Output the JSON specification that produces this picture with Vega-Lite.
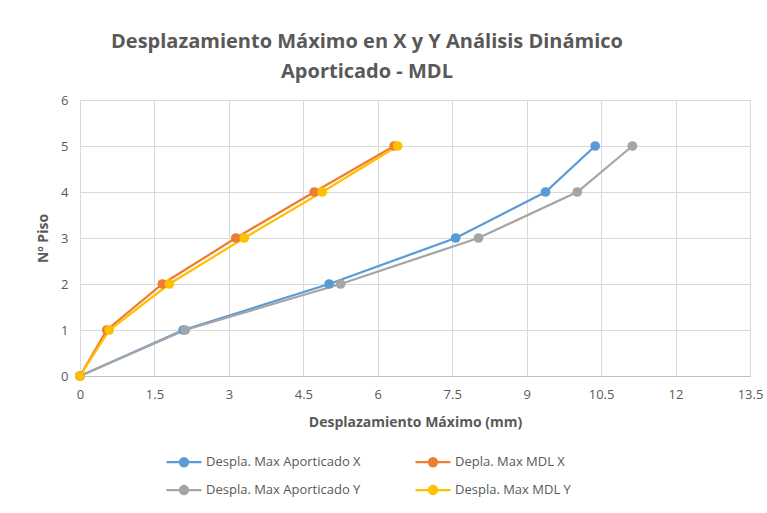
{
  "$schema": "https://vega.github.io/schema/vega-lite/v6.json",
  "width": 670,
  "height": 276,
  "autosize": "none",
  "padding": {"left": 80, "top": 100, "right": 17, "bottom": 137},
  "background": "white",
  "config": {
    "font": "Open Sans",
    "view": {"stroke": null},
    "axis": {"labelColor": "#595959", "labelFontSize": 13, "titleColor": "#595959", "titleFontSize": 14, "titleFontWeight": "bold", "gridColor": "#d9d9d9", "gridWidth": 1, "ticks": false, "domain": false, "labelFlush": false}
  },
  "title": {
    "text": ["Desplazamiento Máximo en X y Y Análisis Dinámico", "Aporticado - MDL"],
    "fontSize": 20,
    "fontWeight": "bold",
    "color": "#595959",
    "anchor": "middle",
    "dx": -48,
    "lineHeight": 30,
    "offset": 12
  },
  "data": {
    "values": [
      {"serie": "Despla. Max Aporticado X", "x": 0, "piso": 0},
      {"serie": "Despla. Max Aporticado X", "x": 2.08, "piso": 1},
      {"serie": "Despla. Max Aporticado X", "x": 5.02, "piso": 2},
      {"serie": "Despla. Max Aporticado X", "x": 7.57, "piso": 3},
      {"serie": "Despla. Max Aporticado X", "x": 9.38, "piso": 4},
      {"serie": "Despla. Max Aporticado X", "x": 10.38, "piso": 5},
      {"serie": "Depla. Max MDL X", "x": 0, "piso": 0},
      {"serie": "Depla. Max MDL X", "x": 0.54, "piso": 1},
      {"serie": "Depla. Max MDL X", "x": 1.66, "piso": 2},
      {"serie": "Depla. Max MDL X", "x": 3.14, "piso": 3},
      {"serie": "Depla. Max MDL X", "x": 4.72, "piso": 4},
      {"serie": "Depla. Max MDL X", "x": 6.33, "piso": 5},
      {"serie": "Despla. Max Aporticado Y", "x": 0, "piso": 0},
      {"serie": "Despla. Max Aporticado Y", "x": 2.12, "piso": 1},
      {"serie": "Despla. Max Aporticado Y", "x": 5.25, "piso": 2},
      {"serie": "Despla. Max Aporticado Y", "x": 8.03, "piso": 3},
      {"serie": "Despla. Max Aporticado Y", "x": 10.02, "piso": 4},
      {"serie": "Despla. Max Aporticado Y", "x": 11.13, "piso": 5},
      {"serie": "Despla. Max MDL Y", "x": 0, "piso": 0},
      {"serie": "Despla. Max MDL Y", "x": 0.59, "piso": 1},
      {"serie": "Despla. Max MDL Y", "x": 1.8, "piso": 2},
      {"serie": "Despla. Max MDL Y", "x": 3.31, "piso": 3},
      {"serie": "Despla. Max MDL Y", "x": 4.88, "piso": 4},
      {"serie": "Despla. Max MDL Y", "x": 6.4, "piso": 5}
    ]
  },
  "mark": {"type": "line", "strokeWidth": 2.25, "point": {"filled": true, "size": 95, "opacity": 1}},
  "encoding": {
    "x": {
      "field": "x", "type": "quantitative",
      "scale": {"domain": [0, 13.5], "nice": false, "zero": true},
      "axis": {"values": [0, 1.5, 3, 4.5, 6, 7.5, 9, 10.5, 12, 13.5], "title": "Desplazamiento Máximo (mm)", "titlePadding": 14, "labelPadding": 12, "domain": true, "domainColor": "#bfbfbf", "format": ".1~f"}
    },
    "y": {
      "field": "piso", "type": "quantitative",
      "scale": {"domain": [0, 6], "nice": false},
      "axis": {"values": [0, 1, 2, 3, 4, 5, 6], "title": "Nº Piso", "titlePadding": 10, "labelPadding": 12}
    },
    "order": {"field": "piso"},
    "color": {
      "field": "serie", "type": "nominal",
      "scale": {
        "domain": ["Despla. Max Aporticado X", "Depla. Max MDL X", "Despla. Max Aporticado Y", "Despla. Max MDL Y"],
        "range": ["#5b9bd5", "#ed7d31", "#a5a5a5", "#ffc000"]
      },
      "legend": {
        "title": null,
        "orient": "none",
        "legendX": 85,
        "legendY": 343,
        "direction": "horizontal",
        "columns": 2,
        "columnPadding": 50,
        "rowPadding": -7,
        "labelFontSize": 13,
        "labelColor": "#595959",
        "labelOffset": 3,
        "symbolType": "M-1,0H1M-0.23,0a0.23,0.23 0 1,0 0.46,0a0.23,0.23 0 1,0 -0.46,0",
        "symbolSize": 1225,
        "symbolStrokeWidth": 2.25,
        "encode": {"symbols": {"update": {"fill": {"scale": "color", "field": "value"}, "stroke": {"scale": "color", "field": "value"}, "opacity": {"value": 1}}}}
      }
    }
  }
}
